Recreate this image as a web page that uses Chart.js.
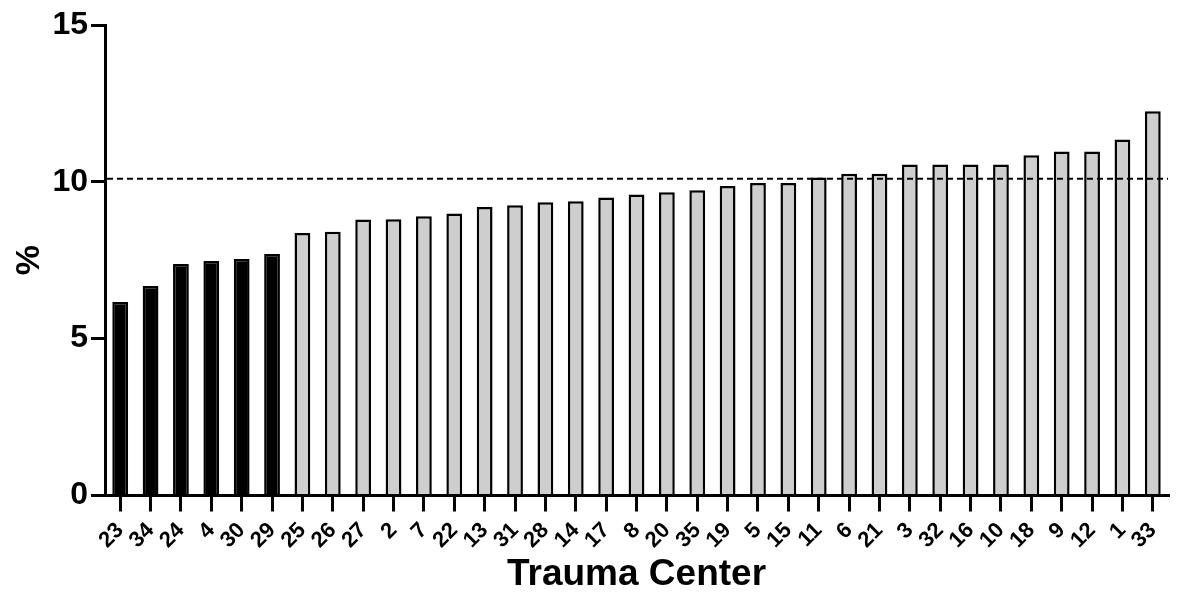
<!DOCTYPE html>
<html>
<head>
<meta charset="utf-8">
<title>Trauma Center</title>
<script src="https://cdn.jsdelivr.net/npm/chart.js@4"></script>
<style>
  html, body { margin: 0; padding: 0; background: #fff; }
  #wrap { width: 1178px; height: 600px; position: relative; }
</style>
</head>
<body>
<div id="wrap"><canvas id="centerChart"></canvas></div>
<script>
// values
const centers = ['23', '34', '24', '4', '30', '29', '25', '26', '27', '2', '7', '22', '13', '31', '28', '14', '17', '8',
    '20', '35', '19', '5', '15', '11', '6', '21', '3', '32', '16', '10', '18', '9', '12', '1', '33'];
const percents = [6.17, 6.68, 7.38, 7.48, 7.54, 7.70, 8.37, 8.41, 8.80, 8.81, 8.90, 8.99, 9.20, 9.25, 9.35, 9.38, 9.50, 9.60,
    9.67, 9.73, 9.87, 9.96, 9.96, 10.14, 10.26, 10.26, 10.55, 10.55, 10.55, 10.55, 10.85, 10.97, 10.97, 11.35, 12.25];
const lowCenters = ['23', '34', '24', '4', '30', '29'];
const overallRate = 10.1;
const yTicks = [0, 5, 10, 15];

const fontFamily = "Arial, 'Liberation Sans', sans-serif";

// dashed reference line at the overall rate
const refLine = {
    id: 'refLine',
    afterDatasetsDraw(chart) {
        const { ctx, chartArea, scales } = chart;
        const y = scales.y.getPixelForValue(overallRate);
        ctx.save();
        ctx.strokeStyle = '#000';
        ctx.lineWidth = 2;
        ctx.setLineDash([6, 4]);
        ctx.beginPath();
        ctx.moveTo(chartArea.left + 2, y);
        ctx.lineTo(chartArea.right, y);
        ctx.stroke();
        ctx.restore();
    }
};

const ctx = document.getElementById('centerChart').getContext('2d');
const centerChart = new Chart(ctx, {
    type: 'bar',
    data: {
        labels: centers,
        datasets: [{
            label: '%',
            data: percents,
            backgroundColor: (c) => lowCenters.includes(centers[c.dataIndex]) ? '#000' : '#cecece',
            borderColor: '#000',
            borderWidth: 2.5,
            borderSkipped: 'start',
            categoryPercentage: 1,
            barPercentage: 0.52
        }]
    },
    options: {
        responsive: true,
        maintainAspectRatio: false,
        animation: false,
        layout: { padding: { top: 25, right: 10, left: 0, bottom: 0 } },
        plugins: {
            legend: { display: false },
            tooltip: { enabled: false }
        },
        scales: {
            x: {
                offset: true,
                grid: { display: true, offset: false, drawOnChartArea: false, drawTicks: true, tickLength: 16, color: '#000', lineWidth: 3 },
                border: { display: true, color: '#000', width: 3 },
                ticks: {
                    color: '#000',
                    font: { family: fontFamily, size: 22, weight: 'bold' },
                    minRotation: 45,
                    maxRotation: 45,
                    autoSkip: false,
                    padding: 6
                },
                title: {
                    display: true,
                    text: 'Trauma Center',
                    color: '#000',
                    font: { family: fontFamily, size: 37, weight: 'bold', lineHeight: 1 },
                    padding: { top: 0, bottom: 7 }
                },
                afterFit(scale) { scale.height = 104.5; }
            },
            y: {
                min: 0,
                max: 15,
                afterBuildTicks(scale) { scale.ticks = yTicks.map(v => ({ value: v })); },
                grid: { drawOnChartArea: false, drawTicks: true, tickLength: 14, color: '#000', lineWidth: 3 },
                border: { display: true, color: '#000', width: 3 },
                ticks: {
                    color: '#000',
                    font: { family: fontFamily, size: 32, weight: 'bold' },
                    padding: 3
                },
                title: {
                    display: true,
                    text: '%',
                    color: '#000',
                    font: { family: fontFamily, size: 34, weight: 'bold', lineHeight: 1 },
                    padding: { top: 13, bottom: 0 }
                },
                afterFit(scale) { scale.width = 105; }
            }
        }
    },
    plugins: [refLine]
});
</script>
</body>
</html>
